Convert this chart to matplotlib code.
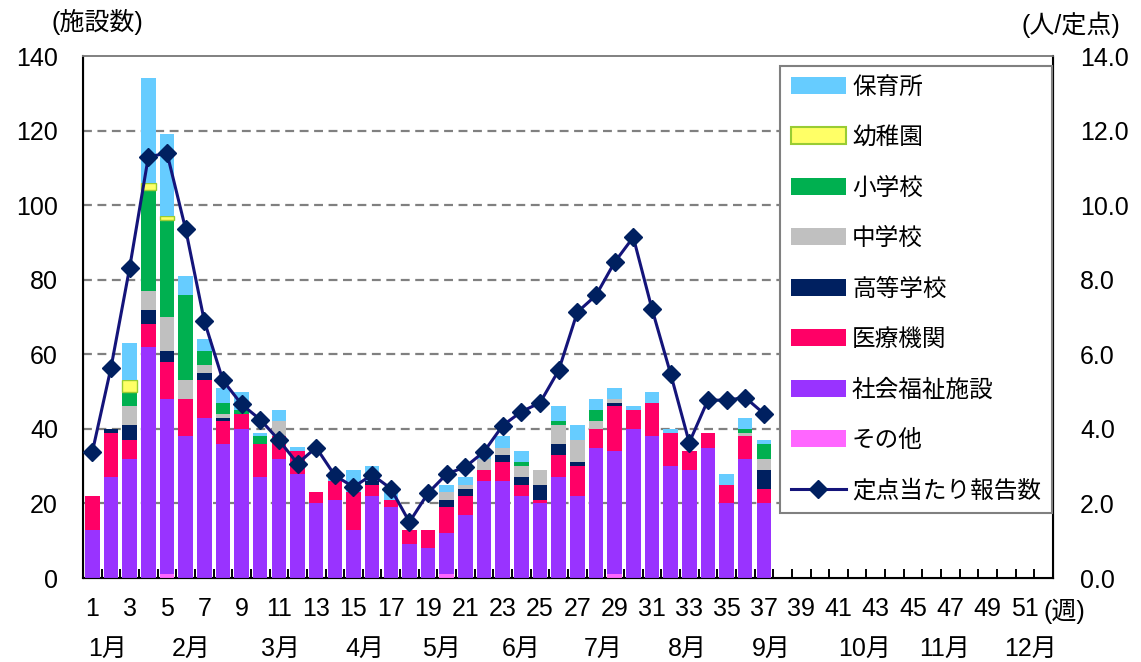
import numpy as np
import matplotlib
matplotlib.use("Agg")
import matplotlib.pyplot as plt
from matplotlib.patches import Patch
from matplotlib.lines import Line2D
from matplotlib.ticker import FixedLocator

plt.rcParams['font.family'] = ['Liberation Sans', 'Noto Sans CJK JP']

# ---- data ----
weeks = list(range(1, 38))
other   = [0,0,0,0,1,0,0,0,0,0,0,0,0,0,0,0,0,0,0,1,0,0,0,0,0,0,0,0,1,0,0,0,0,0,0,0,0]
welfare = [13,27,32,62,47,38,43,36,40,27,32,28,20,21,13,22,19,9,8,11,17,26,26,22,20,27,22,35,33,40,38,30,29,35,20,32,20]
medical = [9,12,5,6,10,10,10,6,4,9,6,6,3,5,10,3,2,4,5,7,5,3,5,3,1,6,8,5,12,5,9,9,5,4,5,6,4]
high    = [0,1,4,4,3,0,2,1,0,0,0,0,0,0,0,1,0,0,0,2,2,0,2,2,4,3,1,0,1,0,0,0,0,0,0,0,5]
junior  = [0,0,5,5,9,5,2,1,0,0,4,0,0,0,0,0,0,0,0,2,1,3,2,3,4,5,6,2,1,0,0,0,0,0,0,1,3]
elem    = [0,0,4,27,26,23,4,3,1,2,0,0,0,0,0,0,0,0,0,0,0,0,0,1,0,1,0,3,0,0,0,0,0,0,0,1,4]
kinder  = [0,0,3,2,1,0,0,0,0,0,0,0,0,0,0,0,0,0,0,0,0,0,0,0,0,0,0,0,0,0,0,0,0,0,0,0,0]
nursery = [0,0,10,28,22,5,3,4,5,1,3,1,0,1,6,4,2,0,0,2,2,1,3,3,0,4,4,3,3,1,3,1,0,0,3,3,1]
per_site = [3.38,5.64,8.32,11.29,11.40,9.36,6.90,5.30,4.66,4.25,3.70,3.07,3.50,2.75,2.44,2.77,2.40,
            1.50,2.28,2.79,2.98,3.39,4.09,4.46,4.70,5.57,7.13,7.58,8.47,9.14,7.22,5.48,3.63,4.77,4.77,4.84,4.41]

series_names = ['その他', '社会福祉施設', '医療機関', '高等学校', '中学校', '小学校', '幼稚園', '保育所']
series_vals = [other, welfare, medical, high, junior, elem, kinder, nursery]
series_colors = ['#FF66FF', '#9933FF', '#FF0066', '#002060', '#C0C0C0', '#00B050', '#FFFF66', '#66CCFF']
series_edges = [None, None, None, None, None, None, '#99CC33', None]

week_tick_labels = [str(w) for w in range(1, 52, 2)]
month_labels = ['1月', '2月', '3月', '4月', '5月', '6月', '7月', '8月', '9月', '10月', '11月', '12月']
month_pos = [1.8, 6.3, 11.1, 15.6, 19.7, 24.0, 28.4, 32.9, 37.4, 42.4, 46.7, 51.3]

line_label = '定点当たり報告数'
line_color = '#14147A'
marker_color = '#002060'

W, H = 1141, 662
fig = plt.figure(figsize=(W/100, H/100), dpi=100)
ax = fig.add_axes([83/W, 1-578/H, 970/W, 522/H])
ax2 = ax.twinx()

x = np.array(weeks)
bottom = np.zeros(len(weeks))
for name, vals, col, ec in zip(series_names, series_vals, series_colors, series_edges):
    v = np.array(vals, dtype=float)
    m = v > 0
    if ec:
        ax.bar(x[m], v[m], bottom=bottom[m], width=0.78, color=col, edgecolor=ec,
               linewidth=1.0, zorder=3)
    else:
        ax.bar(x[m], v[m], bottom=bottom[m], width=0.78, color=col, linewidth=0, zorder=3)
    bottom += v

ax2.plot(x, per_site, color=line_color, lw=2.2, marker='D', markersize=9,
         markerfacecolor=marker_color, markeredgecolor=marker_color, zorder=5)

ax.set_xlim(0.5, 52.5)
ax.set_ylim(0, 140)
ax2.set_ylim(0, 14)
ax.set_yticks(range(0, 141, 20))
ax2.set_yticks(range(0, 15, 2))
ax2.set_yticklabels([f'{v:.1f}' for v in range(0, 15, 2)])

for yv in range(20, 140, 20):
    ax.axhline(yv, color='#808080', lw=1.6, dashes=(4, 2.5), zorder=1)

ax.set_xticks(range(1, 52, 2))
ax.set_xticklabels(week_tick_labels)
ax.xaxis.set_minor_locator(FixedLocator(np.arange(0.5, 53, 1)))
ax.tick_params(axis='x', which='major', length=0, pad=13.5, labelsize=18)
ax.tick_params(axis='x', which='minor', direction='in', length=6.5, width=1.4, color='black')
ax.tick_params(axis='y', length=0, pad=18, labelsize=18)
ax2.tick_params(axis='y', length=0, pad=19.5, labelsize=18)

for sp in ['left', 'bottom']:
    ax.spines[sp].set_linewidth(1.5)
    ax.spines[sp].set_color('black')
ax2.spines['right'].set_linewidth(1.5)
ax2.spines['right'].set_color('black')
for a in (ax, ax2):
    a.spines['top'].set_color('#808080')
    a.spines['top'].set_linewidth(1.2)

for lab, p in zip(month_labels, month_pos):
    ax.text(p, -(649-578)/522, lab, transform=ax.get_xaxis_transform(),
            ha='center', va='center', fontsize=18)
ax.text(53.1, -(611-578)/522, '(週)', transform=ax.get_xaxis_transform(),
        ha='center', va='center', fontsize=18, clip_on=False)

fig.text(97/W, 1-22/H, '(施設数)', ha='center', va='center', fontsize=18)
fig.text(1071/W, 1-25/H, '(人/定点)', ha='center', va='center', fontsize=18)

handles = []
for name, col, ec in zip(series_names[::-1], series_colors[::-1], series_edges[::-1]):
    if ec:
        handles.append(Patch(facecolor=col, edgecolor=ec, linewidth=1.5, label=name))
    else:
        handles.append(Patch(facecolor=col, edgecolor='none', label=name))
handles.append(Line2D([0], [0], color=line_color, lw=2.2, marker='D', markersize=9,
                      markerfacecolor=marker_color, markeredgecolor=marker_color, label=line_label))

leg = ax2.legend(handles=handles, loc='upper left', bbox_to_anchor=(780/W, 1-66/H),
                 bbox_transform=fig.transFigure, borderaxespad=0, fontsize=17,
                 handlelength=2.35, handleheight=0.75, handletextpad=0.25,
                 labelspacing=1.2, borderpad=0.45, fancybox=False, framealpha=1,
                 edgecolor='#808080', numpoints=1)
leg.get_frame().set_linewidth(1.5)
leg.set_zorder(10)

fig.savefig('out.png', dpi=100)
